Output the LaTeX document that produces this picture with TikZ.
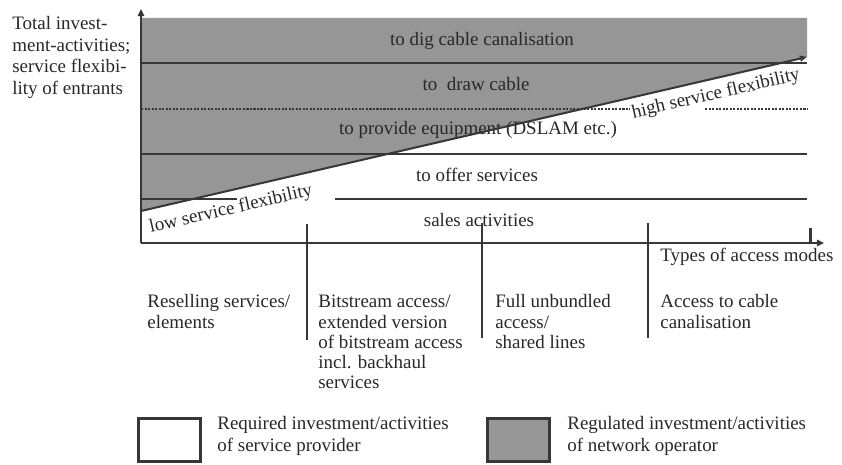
\documentclass[tikz,border=0pt]{standalone}
\usepackage{fontspec}
\setmainfont{Liberation Serif}
\usetikzlibrary{arrows.meta}
\definecolor{fillgray}{RGB}{150,150,150}
\definecolor{ink}{RGB}{40,40,40}
\definecolor{linegray}{RGB}{55,55,55}
\newcommand\mlines[1]{\begin{tabular}[t]{@{}l@{}}#1\end{tabular}}
\begin{document}
\begin{tikzpicture}[x=0.02cm,y=-0.02cm,
  txt/.style={inner sep=0pt, text=ink, font=\fontsize{10.8}{11.4}\selectfont},
  ytxt/.style={txt, font=\fontsize{10.8}{12.2}\selectfont},
  ltxt/.style={txt, font=\fontsize{10.8}{12.5}\selectfont},
  axis/.style={draw=linegray, line width=1.14pt, -{Triangle[length=4pt,width=3.6pt]}},
  band/.style={draw=linegray, line width=0.85pt},
  thinband/.style={draw=linegray, line width=0.6pt},
  dotband/.style={draw=linegray, line width=0.6pt, dash pattern=on 1.2pt off 0.8pt},
  divider/.style={draw=linegray, line width=0.6pt},
  legbox/.style={draw=linegray, line width=1.7pt, minimum width=1.24cm, minimum height=0.86cm, inner sep=0pt}
]
\useasboundingbox (0,0) rectangle (842,465);

% gray regulated area
\fill[fillgray] (141,18) -- (807,18) -- (807,57) -- (141,211) -- cycle;

% band lines
\draw[thinband] (141,63) -- (807,63);
\draw[dotband] (141,109) -- (630,109);
\draw[dotband] (705,109) -- (807,109);
\draw[band] (141,154) -- (807,154);
\draw[band] (141,199) -- (237,199);
\draw[band] (335,199) -- (807,199);

% band labels
\node[txt, anchor=base] (dig)   at (482,46)  {to dig cable canalisation};
\node[txt, anchor=base] (draw)  at (476,91)  {to\ \ draw cable};
\node[txt, anchor=base] (equip) at (478,135) {to provide equipment (DSLAM etc.)};
\node[txt, anchor=base] (offer) at (477,182) {to offer services};
\node[txt, anchor=base] (sales) at (479,227) {sales activities};

% flexibility diagonal
\coordinate (dstart) at (141,211);
\coordinate (dend) at (807,57);
\draw[draw=linegray, line width=1.14pt, -{Triangle[length=4pt,width=3.4pt]}] (dstart) -- (dend);
\node[txt, anchor=base, rotate=13] (low)  at (232,214) {low service flexibility};
\node[txt, anchor=base, rotate=13] (high) at (717,99)  {high service flexibility};

% dividers
\draw[draw=linegray, line width=1.14pt] (307,224) -- (307,340);
\draw[divider] (482,223) -- (482,338);
\draw[divider] (648,223) -- (648,338);
\draw[draw=linegray, line width=1.7pt] (810,228) -- (810,243);

% axes
\coordinate (origin) at (141,243);
\coordinate (ytop) at (141,9);
\coordinate (xend) at (824,243);
\draw[axis] (origin) -- (ytop);
\draw[axis] (origin) -- (xend);

% axis labels
\node[ytxt, anchor=base west] (ylab) at (12,30) {\mlines{Total invest-\\ment-activities;\\service flexibi-\\lity of entrants}};
\node[txt, anchor=base west] (xlab) at (660,262) {Types of access modes};

% access modes
\node[txt, anchor=base west] (resell) at (147,308) {\mlines{Reselling services/\\elements}};
\node[txt, anchor=base west] (bitstr) at (318,308) {\mlines{Bitstream access/\\extended version\\of bitstream access\\incl. backhaul\\services}};
\node[txt, anchor=base west] (full) at (495,308) {\mlines{Full unbundled\\access/\\shared lines}};
\node[txt, anchor=base west] (canal) at (660,308) {\mlines{Access to cable\\canalisation}};

% legend
\node[legbox, fill=white] (boxw) at (169.5,440) {};
\node[legbox, fill=fillgray] (boxg) at (518.5,440) {};
\node[ltxt, anchor=base west] (legw) at (217,430) {\mlines{Required investment/activities\\of service provider}};
\node[ltxt, anchor=base west] (legg) at (567,430) {\mlines{Regulated investment/activities\\of network operator}};
\end{tikzpicture}
\end{document}
